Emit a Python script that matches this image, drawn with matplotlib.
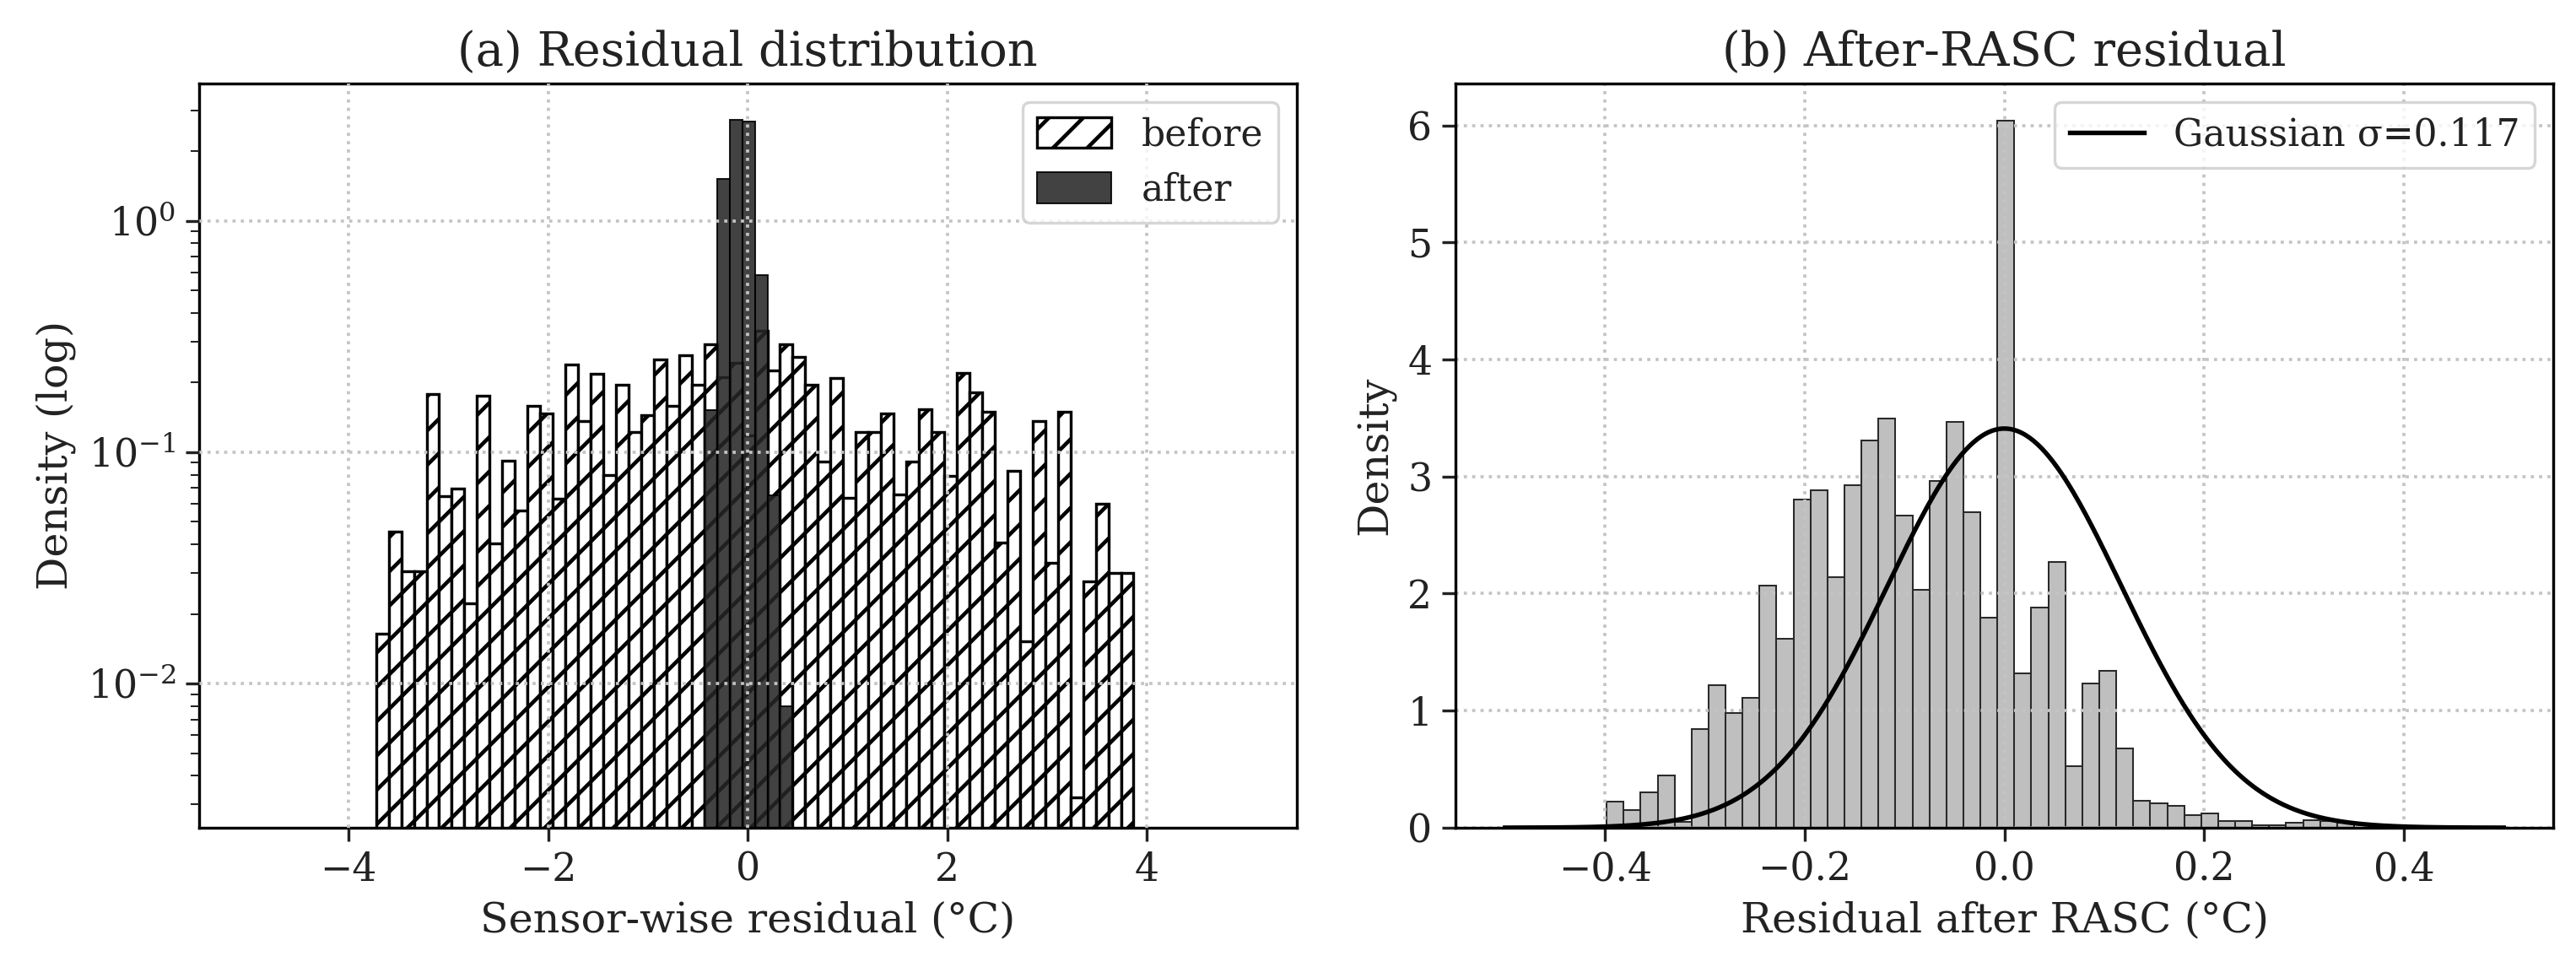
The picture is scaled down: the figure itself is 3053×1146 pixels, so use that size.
import numpy as np
import matplotlib
matplotlib.use("Agg")
import matplotlib.pyplot as plt

# ---------------- data ----------------
# (a) density of sensor-wise residuals, shared bins (60 bins)
bin_lo_a, bin_hi_a, n_bins_a = -3.725, 3.865, 60
before_density = [
    0.0164, 0.0454, 0.0306, 0.0306, 0.179, 0.0646, 0.0699, 0.0223, 0.176, 0.0402,
    0.092, 0.0559, 0.158, 0.1466, 0.0628, 0.239, 0.136, 0.218, 0.080, 0.196,
    0.122, 0.145, 0.252, 0.158, 0.263, 0.195, 0.292, 0.211, 0.243, 0.118,
    0.336, 0.225, 0.292, 0.259, 0.196, 0.0912, 0.209, 0.0637, 0.122, 0.122,
    0.1466, 0.0656, 0.0912, 0.153, 0.122, 0.0789, 0.221, 0.182, 0.149, 0.0406,
    0.0828, 0.0152, 0.136, 0.0332, 0.149, 0.00323, 0.0276, 0.0598, 0.0301, 0.0301,
]
# 'after' occupies bins 26..32 of the same grid
after_first_bin = 26
after_density = [0.152, 1.52, 2.74, 2.70, 0.584, 0.065, 0.0080]

# (b) after-RASC residual histogram (44 bins)
bin_lo_b, bin_hi_b, n_bins_b = -0.3983, 0.3502, 44
rasc_density = [
    0.222, 0.150, 0.305, 0.449, 0.050, 0.845, 1.215, 0.977, 1.109, 2.065,
    1.615, 2.806, 2.881, 2.141, 2.926, 3.308, 3.493, 2.670, 2.035, 2.960,
    3.467, 2.696, 1.797, 6.043, 1.321, 1.884, 2.272, 0.523, 1.234, 1.337,
    0.675, 0.229, 0.212, 0.186, 0.108, 0.120, 0.060, 0.060, 0.020, 0.020,
    0.046, 0.065, 0.060, 0.045,
]
gauss_mu, gauss_sigma = 0.0, 0.117
gauss_range = (-0.5, 0.5)

xticks_a = [-4, -2, 0, 2, 4]
xticks_b = [-0.4, -0.2, 0.0, 0.2, 0.4]
yticks_b = [0, 1, 2, 3, 4, 5, 6]

# ---------------- style ----------------
plt.rcParams.update({
    "font.family": ["DejaVu Serif"],
    "mathtext.fontset": "dejavuserif",
    "font.size": 13.5,
    "axes.titlesize": 16.5,
    "axes.labelsize": 14.5,
    "xtick.labelsize": 13.5,
    "ytick.labelsize": 13.5,
    "legend.fontsize": 13,
    "xtick.major.size": 4.6,
    "ytick.major.size": 4.6,
    "xtick.minor.size": 2.9,
    "ytick.minor.size": 2.9,
    "xtick.major.width": 1.0,
    "ytick.major.width": 1.0,
    "axes.linewidth": 1.0,
    "hatch.linewidth": 1.35,
    "text.color": "#222222",
    "axes.labelcolor": "#222222",
    "xtick.color": "#222222",
    "ytick.color": "#222222",
})

DPI = 244
fig = plt.figure(figsize=(3053 / DPI, 1146 / DPI), dpi=DPI)
ax1 = fig.add_axes([0.0772, 0.1440, 0.4262, 0.7700])
ax2 = fig.add_axes([0.5649, 0.1440, 0.4264, 0.7700])

grid_kw = dict(linestyle=":", color="#c4c4c4", linewidth=1.1)

# ---------------- (a) ----------------
edges_a = np.linspace(bin_lo_a, bin_hi_a, n_bins_a + 1)
centers_a = 0.5 * (edges_a[:-1] + edges_a[1:])
ax1.hist(centers_a, bins=edges_a, weights=before_density,
         facecolor="white", edgecolor="black", linewidth=1.0,
         hatch="//", label="before")
after_centers = centers_a[after_first_bin:after_first_bin + len(after_density)]
ax1.hist(after_centers, bins=edges_a, weights=after_density,
         color="#262626", alpha=0.87, edgecolor="black", linewidth=0.6,
         label="after")
ax1.set_yscale("log")
ax1.set_xlim(-5.5, 5.5)
ax1.set_ylim(0.00238, 3.94)
ax1.set_xticks(xticks_a)
ax1.set_axisbelow(False)
ax1.grid(True, which="major", **grid_kw)
ax1.set_title("(a) Residual distribution")
ax1.set_xlabel("Sensor-wise residual (°C)")
ax1.set_ylabel("Density (log)")
ax1.legend(loc="upper right", handlelength=2.0, handleheight=0.9)

# ---------------- (b) ----------------
edges_b = np.linspace(bin_lo_b, bin_hi_b, n_bins_b + 1)
centers_b = 0.5 * (edges_b[:-1] + edges_b[1:])
ax2.hist(centers_b, bins=edges_b, weights=rasc_density,
         facecolor="#bfbfbf", edgecolor="#2a2a2a", linewidth=0.6)
xg = np.linspace(gauss_range[0], gauss_range[1], 500)
yg = np.exp(-0.5 * ((xg - gauss_mu) / gauss_sigma) ** 2) / (gauss_sigma * np.sqrt(2 * np.pi))
ax2.plot(xg, yg, color="black", linewidth=1.6,
         label=f"Gaussian σ={gauss_sigma:.3f}")
ax2.set_xlim(-0.55, 0.55)
ax2.set_ylim(0, 6.36)
ax2.set_xticks(xticks_b)
ax2.set_yticks(yticks_b)
ax2.set_axisbelow("line")
ax2.grid(True, **grid_kw)
ax2.set_title("(b) After-RASC residual")
ax2.set_xlabel("Residual after RASC (°C)")
ax2.set_ylabel("Density")
ax2.legend(loc="upper right", handlelength=2.0)

fig.savefig("out.png", dpi=DPI)
